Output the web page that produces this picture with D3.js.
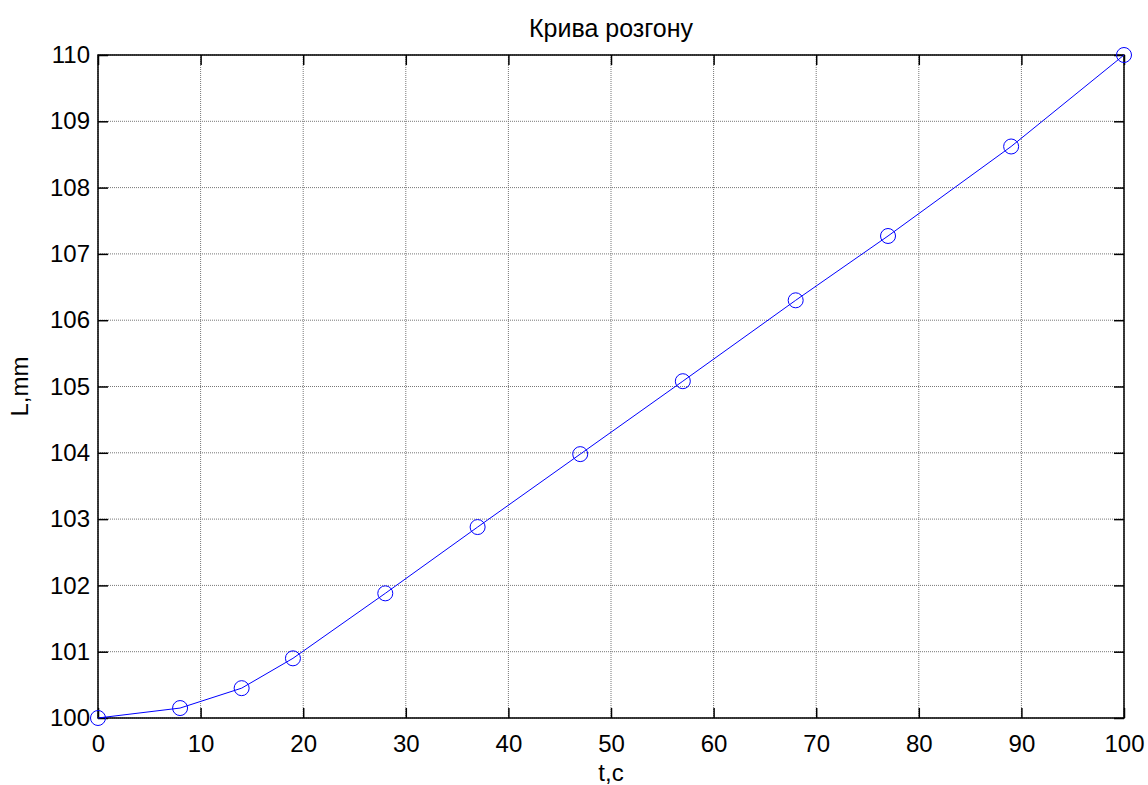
<!DOCTYPE html>
<meta charset="utf-8">
<script src="https://d3js.org/d3.v7.min.js"></script>
<style>
  body { margin: 0; background: #fff; }
  text { font-family: "Liberation Sans", Arial, sans-serif; fill: #000; }
</style>
<div id="my_dataviz"></div>
<script>

// data
var tValues = [0, 8, 14, 19, 28, 37, 47, 57, 68, 77, 89, 100];
var lValues = [100, 100.15, 100.45, 100.9, 101.88, 102.88, 103.98, 105.08, 106.3, 107.27, 108.62, 110];
var xTicks = [0, 10, 20, 30, 40, 50, 60, 70, 80, 90, 100];
var yTicks = [100, 101, 102, 103, 104, 105, 106, 107, 108, 109, 110];

var margin = {top: 55, right: 24, bottom: 67, left: 98},
    width = 1148 - margin.left - margin.right,
    height = 785 - margin.top - margin.bottom;

var svg = d3.select("#my_dataviz")
  .append("svg")
    .attr("width", 1148)
    .attr("height", 785)
  .append("g")
    .attr("transform", "translate(" + margin.left + "," + margin.top + ")");

var x = d3.scaleLinear().domain([0, 100]).range([0, width]);
var y = d3.scaleLinear().domain([100, 110]).range([height, 0]);

// grid
svg.append("g").selectAll("line")
  .data(xTicks).enter().append("line")
    .attr("x1", function(d) { return x(d); })
    .attr("x2", function(d) { return x(d); })
    .attr("y1", 0).attr("y2", height)
    .attr("stroke", "#777").attr("stroke-width", 1).attr("stroke-dasharray", "1,1");
svg.append("g").selectAll("line")
  .data(yTicks).enter().append("line")
    .attr("y1", function(d) { return y(d); })
    .attr("y2", function(d) { return y(d); })
    .attr("x1", 0).attr("x2", width)
    .attr("stroke", "#777").attr("stroke-width", 1).attr("stroke-dasharray", "1,1");

// axes, ticks pointing inward on all four sides
var tickLen = 10;
function styleAxis(g) {
  g.select(".domain").remove();
  g.selectAll(".tick line").attr("stroke", "#000").attr("stroke-width", 1.5);
  g.selectAll(".tick text").style("font-size", "24px").style("font-family", "Liberation Sans, Arial, sans-serif");
}
svg.append("g")
  .attr("transform", "translate(0," + height + ")")
  .call(d3.axisBottom(x).tickValues(xTicks).tickSize(-tickLen).tickPadding(17).tickFormat(d3.format("d")))
  .call(styleAxis);
svg.append("g")
  .call(d3.axisTop(x).tickValues(xTicks).tickSize(-tickLen).tickFormat(""))
  .call(styleAxis);
svg.append("g")
  .call(d3.axisLeft(y).tickValues(yTicks).tickSize(-tickLen).tickPadding(8).tickFormat(d3.format("d")))
  .call(styleAxis);
svg.append("g")
  .attr("transform", "translate(" + width + ",0)")
  .call(d3.axisRight(y).tickValues(yTicks).tickSize(-tickLen).tickFormat(""))
  .call(styleAxis);

// box
svg.append("rect")
  .attr("x", 0).attr("y", 0).attr("width", width).attr("height", height)
  .attr("fill", "none").attr("stroke", "#000").attr("stroke-width", 1.5);

// curve
var line = d3.line()
  .x(function(d, i) { return x(tValues[i]); })
  .y(function(d) { return y(d); });
svg.append("path")
  .datum(lValues)
  .attr("d", line)
  .attr("fill", "none").attr("stroke", "#0000ff").attr("stroke-width", 1);

svg.append("g").selectAll("circle")
  .data(lValues).enter().append("circle")
    .attr("cx", function(d, i) { return x(tValues[i]); })
    .attr("cy", function(d) { return y(d); })
    .attr("r", 7.5)
    .attr("fill", "none").attr("stroke", "#0000ff").attr("stroke-width", 1);

// title and labels
svg.append("text")
  .attr("x", width / 2).attr("y", -18)
  .attr("text-anchor", "middle")
  .style("font-size", "25px")
  .text("Крива розгону");

svg.append("text")
  .attr("x", width / 2).attr("y", height + 63)
  .attr("text-anchor", "middle")
  .style("font-size", "24px")
  .text("t,c");

svg.append("text")
  .attr("transform", "rotate(-90)")
  .attr("x", -height / 2).attr("y", -70)
  .attr("text-anchor", "middle")
  .style("font-size", "24px")
  .text("L,mm");

</script>
